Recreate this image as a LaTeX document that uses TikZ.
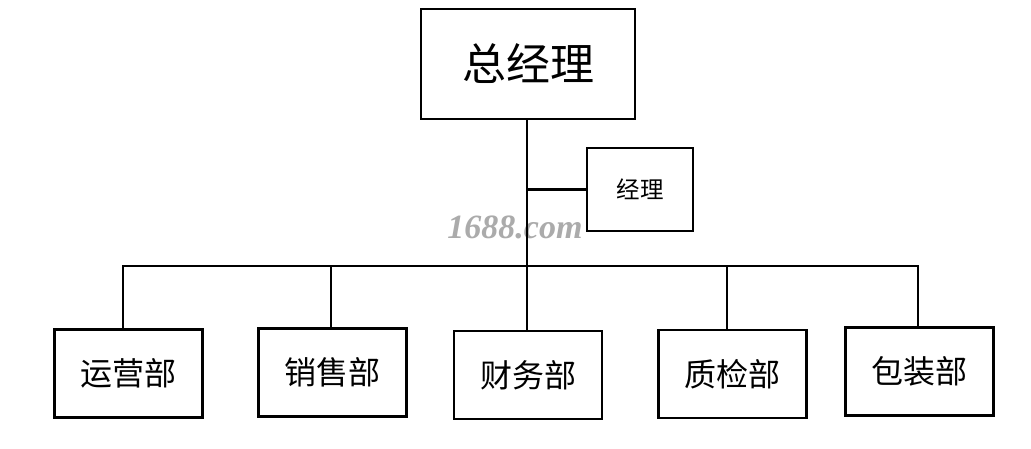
\documentclass[tikz,border=0pt]{standalone}
\usepackage{fontspec}
\newfontfamily\cjk{Noto Sans CJK SC}
\newfontfamily\wmfont{Liberation Serif}
\begin{document}
\begin{tikzpicture}[x=1pt,y=-1pt,
  box/.style={draw=black,line width=2.7pt,inner sep=0pt,minimum width=148pt,minimum height=88pt,font=\cjk\fontsize{32}{32}\selectfont},
  bigbox/.style={box,minimum width=214pt,minimum height=110pt,font=\cjk\fontsize{44}{44}\selectfont},
  smallbox/.style={box,minimum width=106pt,minimum height=83pt,font=\cjk\fontsize{23.5}{23.5}\selectfont},
  link/.style={line width=2.7pt,line cap=rect}]
\useasboundingbox (0,0) rectangle (1031,449);
\fill[white] (0,0) rectangle (1031,449);
\node[bigbox] (boss) at (528,64) {总经理};
\node[smallbox] (mgr) at (640,189.5) {经理};
\node[box] (ops) at (128.5,373.5) {运营部};
\node[box] (sales) at (332.5,372.5) {销售部};
\node[box] (fin) at (528,375) {财务部};
\node[box] (qc) at (732.5,374) {质检部};
\node[box] (pack) at (919.5,371.5) {包装部};
\node[font=\wmfont\bfseries\itshape\fontsize{34}{34}\selectfont,text=black!33] (wm) at (515,227) {1688.com};
\coordinate (bus) at (527,266);
\coordinate (d1) at (123,266);
\coordinate (d2) at (331,266);
\coordinate (d4) at (727,266);
\coordinate (d5) at (918,266);
\draw[link] (boss.south -| bus) -- (bus |- fin.north);
\draw[link] (bus |- mgr.west) -- (mgr.west);
\draw[link] (d1) -- (d5);
\draw[link] (d1) -- (d1 |- ops.north);
\draw[link] (d2) -- (d2 |- sales.north);
\draw[link] (d4) -- (d4 |- qc.north);
\draw[link] (d5) -- (d5 |- pack.north);
\end{tikzpicture}
\end{document}
